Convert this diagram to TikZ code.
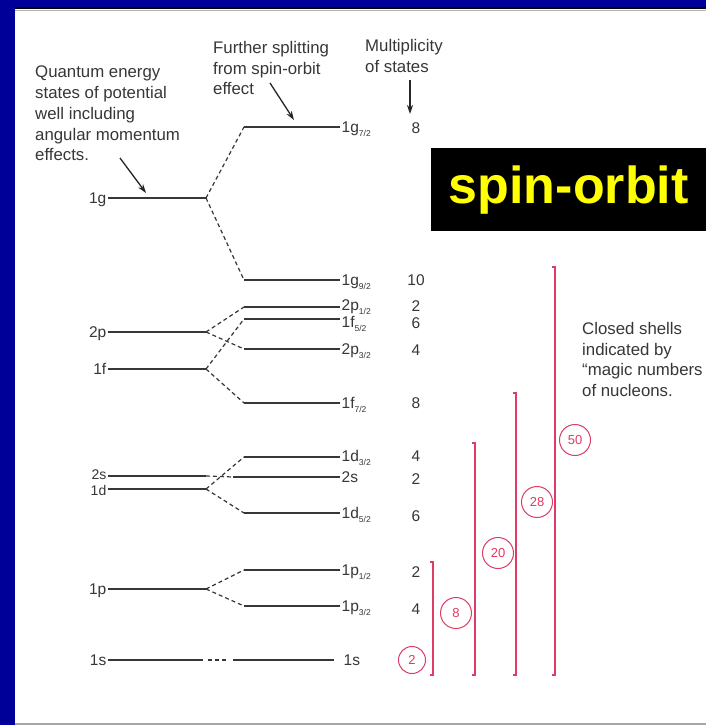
\documentclass[tikz,border=0pt]{standalone}
\usepackage{fontspec}
\setmainfont{Liberation Sans}
\usetikzlibrary{arrows.meta}
\definecolor{frameblue}{RGB}{0,0,153}
\definecolor{ink}{RGB}{55,55,55}
\definecolor{magic}{RGB}{222,60,100}
\definecolor{sunny}{RGB}{255,255,0}
\newcommand{\jsub}[1]{\raisebox{-3.5pt}{\fontsize{8.5}{8.5}\selectfont#1}}

\begin{document}
\begin{tikzpicture}[x=1pt,y=-1pt,
    level/.style={draw=ink,line width=1.6pt},
    split/.style={draw=ink,line width=1.2pt,dash pattern=on 4pt off 3pt},
    lbl/.style={text=ink,inner sep=1.5pt,text height=11pt,text depth=0pt,font=\fontsize{15.5}{18}\selectfont},
    small/.style={lbl,text height=10pt,font=\fontsize{14}{16}\selectfont},
    note/.style={text=ink,inner sep=0pt,align=left,font=\fontsize{16.8}{20.7}\selectfont},
    pointer/.style={draw=black!85,line width=1.3pt,-{Stealth[length=9pt,width=6pt]}},
    shell/.style={draw=magic,line width=1.3pt},
    magicnum/.style={circle,draw=magic,line width=1pt,text=magic,inner sep=0pt,minimum size=31pt,font=\fontsize{13}{13}\selectfont}
]

\useasboundingbox (0,0) rectangle (706,725);
\fill[frameblue] (0,0) rectangle (706,725);
\fill[white] (15,9) rectangle (706,725);
\draw[black,line width=2pt] (15,8.5) -- (706,8.5);
\draw[black!30,line width=1pt] (15,11) -- (706,11);
\draw[black!35,line width=1.2pt] (15,724) -- (706,724);

\node[note,anchor=north west] (wellnote) at (35,66) {Quantum energy\\states of potential\\well including\\angular momentum\\effects.};
\node[note,anchor=north west] (spinnote) at (213,41) {Further splitting\\from spin-orbit\\effect};
\node[note,anchor=north west] (multnote) at (365,39) {Multiplicity\\of states};
\node[note,anchor=north west] (shellnote) at (582,322) {Closed shells\\indicated by\\“magic numbers\\of nucleons.};

\node[fill=black,text=sunny,anchor=north west,minimum width=275pt,minimum height=83pt,inner sep=0pt,font=\fontsize{52}{52}\selectfont\bfseries] (spinbox) at (431,148) {spin-orbit};

\coordinate (wellfrom) at (120,158);
\coordinate (wellto) at (146,193);
\coordinate (spinfrom) at (270,83);
\coordinate (spinto) at (294,120);
\coordinate (multfrom) at (410,80);
\coordinate (multto) at (410,114);
\draw[pointer] (wellfrom) -- (wellto);
\draw[pointer] (spinfrom) -- (spinto);
\draw[pointer] (multfrom) -- (multto);

\node[lbl,anchor=east] (L1g) at (108,198) {1g};
\node[lbl,anchor=east] (L2p) at (108,332) {2p};
\node[lbl,anchor=east] (L1f) at (108,369) {1f};
\node[small,anchor=east] (L2s) at (108,474) {2s};
\node[small,anchor=east] (L1d) at (108,490) {1d};
\node[lbl,anchor=east] (L1p) at (108,589) {1p};
\node[lbl,anchor=east] (L1s) at (108,660) {1s};

\coordinate (j1g) at (206,198);
\coordinate (j2p) at (206,332);
\coordinate (j1f) at (206,369);
\coordinate (j2s) at (206,476);
\coordinate (j1d) at (206,489);
\coordinate (j1p) at (206,589);
\coordinate (j1s) at (203,660);

\draw[level] (L1g) -- (j1g);
\draw[level] (L2p) -- (j2p);
\draw[level] (L1f) -- (j1f);
\draw[level] (L2s.east |- j2s) -- (j2s);
\draw[level] (L1d.east |- j1d) -- (j1d);
\draw[level] (L1p) -- (j1p);
\draw[level] (L1s) -- (j1s);

\node[lbl,anchor=west] (Rg7) at (340,127) {1g\jsub{7/2}};
\node[lbl,anchor=west] (Rg9) at (340,280) {1g\jsub{9/2}};
\node[lbl,anchor=west] (Rp1b) at (340,305) {2p\jsub{1/2}};
\node[lbl,anchor=west] (Rf5) at (340,322) {1f\jsub{5/2}};
\node[lbl,anchor=west] (Rp3b) at (340,349) {2p\jsub{3/2}};
\node[lbl,anchor=west] (Rf7) at (340,403) {1f\jsub{7/2}};
\node[lbl,anchor=west] (Rd3) at (340,456) {1d\jsub{3/2}};
\node[lbl,anchor=west] (Rs2) at (340,477) {2s};
\node[lbl,anchor=west] (Rd5) at (340,513) {1d\jsub{5/2}};
\node[lbl,anchor=west] (Rp1) at (340,570) {1p\jsub{1/2}};
\node[lbl,anchor=west] (Rp3) at (340,606) {1p\jsub{3/2}};
\node[lbl,anchor=west] (Rs1) at (342,660) {1s};

\coordinate (sg7) at (244,127);
\coordinate (sg9) at (244,280);
\coordinate (sp1b) at (244,307);
\coordinate (sf5) at (244,319);
\coordinate (sp3b) at (244,349);
\coordinate (sf7) at (244,403);
\coordinate (sd3) at (244,457);
\coordinate (ss2) at (233,477);
\coordinate (sd5) at (244,513);
\coordinate (sp1) at (244,570);
\coordinate (sp3) at (244,606);
\coordinate (ss1) at (233,660);

\draw[level] (sg7) -- (Rg7);
\draw[level] (sg9) -- (Rg9);
\draw[level] (sp1b) -- (sp1b -| Rp1b.west);
\draw[level] (sf5) -- (sf5 -| Rf5.west);
\draw[level] (sp3b) -- (Rp3b);
\draw[level] (sf7) -- (Rf7);
\draw[level] (sd3) -- (sd3 -| Rd3.west);
\draw[level] (ss2) -- (Rs2);
\draw[level] (sd5) -- (Rd5);
\draw[level] (sp1) -- (Rp1);
\draw[level] (sp3) -- (Rp3);
\draw[level] (ss1) -- ([xshift=-8pt]Rs1.west);

\draw[split] (j1g) -- (sg7);
\draw[split] (j1g) -- (sg9);
\draw[split] (j2p) -- (sp1b);
\draw[split] (j2p) -- (sp3b);
\draw[split] (j1f) -- (sf5);
\draw[split] (j1f) -- (sf7);
\draw[split] (j2s) -- (ss2);
\draw[split] (j1d) -- (sd3);
\draw[split] (j1d) -- (sd5);
\draw[split] (j1p) -- (sp1);
\draw[split] (j1p) -- (sp3);
\draw[split] ([xshift=5pt]j1s) -- ([xshift=-5pt]ss1);

\node[lbl] (Mg7) at (416,128) {8};
\node[lbl] (Mg9) at (416,280) {10};
\node[lbl] (Mp1b) at (416,306) {2};
\node[lbl] (Mf5) at (416,323) {6};
\node[lbl] (Mp3b) at (416,350) {4};
\node[lbl] (Mf7) at (416,403) {8};
\node[lbl] (Md3) at (416,456) {4};
\node[lbl] (Ms2) at (416,479) {2};
\node[lbl] (Md5) at (416,516) {6};
\node[lbl] (Mp1) at (416,572) {2};
\node[lbl] (Mp3) at (416,609) {4};

\draw[shell] (430,562) -- (433,562) -- (433,675) -- (430,675);
\draw[shell] (472,443) -- (475,443) -- (475,675) -- (472,675);
\draw[shell] (513,393) -- (516,393) -- (516,675) -- (513,675);
\draw[shell] (552,267) -- (555,267) -- (555,675) -- (552,675);

\node[magicnum,minimum size=27pt] (n2) at (412,660) {2};
\node[magicnum] (n8) at (456,613) {8};
\node[magicnum] (n20) at (498,553) {20};
\node[magicnum] (n28) at (537,502) {28};
\node[magicnum] (n50) at (575,440) {50};

\end{tikzpicture}
\end{document}
